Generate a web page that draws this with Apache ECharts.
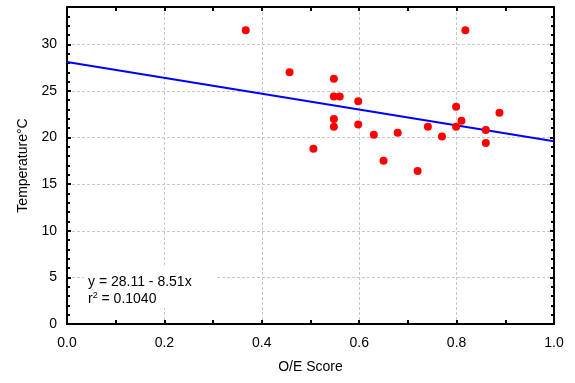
<!DOCTYPE html>
<html>
<head>
<meta charset="utf-8">
<script src="https://cdn.jsdelivr.net/npm/echarts@6/dist/echarts.min.js"></script>
<style>
  html, body { margin: 0; padding: 0; background: #fff; }
  #chart { width: 575px; height: 383px; }
</style>
</head>
<body>
<div id="chart"></div>
<script>
// O/E score vs temperature
const oeScore = [0.367, 0.457, 0.548, 0.548, 0.560, 0.598, 0.548, 0.548, 0.598, 0.506,
  0.630, 0.679, 0.650, 0.720, 0.741, 0.770, 0.799, 0.799, 0.810, 0.818, 0.860, 0.860, 0.888];
const temperature = [31.5, 27.0, 26.3, 24.4, 24.4, 23.9, 22.0, 21.15, 21.4, 18.8,
  20.3, 20.5, 17.5, 16.4, 21.15, 20.1, 23.3, 21.15, 21.8, 31.5, 20.8, 19.4, 22.65];

// fitted line end points (y = 28.11 - 8.51x)
const fitX = [0, 1];
const fitY = [28.11, 19.60];

const fitText = 'y = 28.11 - 8.51x';
const r2Text = '0.1040';

const chart = echarts.init(document.getElementById('chart'));

const gridLine = { show: true, lineStyle: { color: '#c8c8c8', type: [3, 2], width: 1 } };
const frameLine = { show: true, onZero: false, lineStyle: { color: '#000', width: 2 } };
const fontFam = '"Liberation Sans", Arial, sans-serif';

chart.setOption({
  animation: false,
  grid: { left: 67, right: 21, top: 7, bottom: 59 },
  xAxis: [{
    type: 'value', min: 0, max: 1, interval: 0.2,
    name: 'O/E Score', nameLocation: 'middle', nameGap: 36,
    nameTextStyle: { color: '#000', fontSize: 14, fontFamily: fontFam },
    axisLine: frameLine,
    axisTick: { show: true, inside: true, length: 4, lineStyle: { color: '#000', width: 2 } },
    minorTick: { show: true, splitNumber: 2, length: 4, lineStyle: { color: '#000', width: 2 } },
    axisLabel: { color: '#000', fontSize: 14, fontFamily: fontFam, margin: 12,
      formatter: v => v.toFixed(1) },
    splitLine: gridLine
  }, {
    type: 'value', min: 0, max: 1, interval: 0.2, position: 'top',
    axisLine: frameLine,
    axisTick: { show: true, inside: true, length: 4, lineStyle: { color: '#000', width: 2 } },
    minorTick: { show: true, splitNumber: 2, length: 4, lineStyle: { color: '#000', width: 2 } },
    axisLabel: { show: false },
    splitLine: { show: false }
  }],
  yAxis: [{
    type: 'value', min: 0, max: 34, interval: 5,
    name: 'Temperature°C', nameLocation: 'middle', nameGap: 36,
    nameTextStyle: { color: '#000', fontSize: 14, fontFamily: fontFam },
    axisLine: frameLine,
    axisTick: { show: true, inside: true, length: 4, lineStyle: { color: '#000', width: 2 } },
    minorTick: { show: true, splitNumber: 5, length: 3, lineStyle: { color: '#000', width: 2 } },
    axisLabel: { color: '#000', fontSize: 14, fontFamily: fontFam, margin: 10, showMaxLabel: false },
    splitLine: gridLine
  }, {
    type: 'value', min: 0, max: 34, interval: 5, position: 'right',
    axisLine: frameLine,
    axisTick: { show: true, inside: true, length: 4, lineStyle: { color: '#000', width: 2 } },
    minorTick: { show: true, splitNumber: 5, length: 3, lineStyle: { color: '#000', width: 2 } },
    axisLabel: { show: false },
    splitLine: { show: false }
  }],
  graphic: [{
    type: 'rect', left: 84, top: 265, z: 50,
    shape: { width: 133, height: 43 },
    style: { fill: '#fff' }
  }, {
    type: 'text', left: 88, top: 274, z: 51,
    style: {
      text: fitText + '\n{r|r}{s|2}{r| = ' + r2Text + '}',
      fill: '#000', font: '14px ' + fontFam, lineHeight: 17,
      rich: {
        r: { fontSize: 14, fontFamily: fontFam, fill: '#000' },
        s: { fontSize: 9, fontFamily: fontFam, fill: '#000', verticalAlign: 'top', padding: [0, 0, 7, 0] }
      }
    }
  }],
  series: [{
    type: 'line',
    data: fitX.map((x, i) => [x, fitY[i]]),
    showSymbol: false,
    lineStyle: { color: '#0000ff', width: 2 },
    z: 3
  }, {
    type: 'scatter',
    data: oeScore.map((x, i) => [x, temperature[i]]),
    symbolSize: 8,
    itemStyle: { color: '#ff0000', opacity: 1 },
    z: 4
  }]
});
</script>
</body>
</html>
